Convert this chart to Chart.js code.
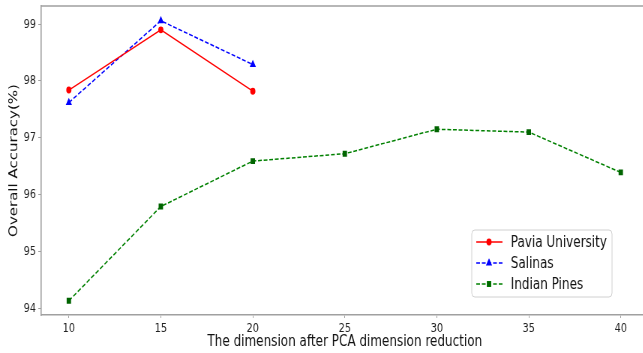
<!DOCTYPE html>
<html>
<head>
<meta charset="utf-8">
<script src="https://cdn.jsdelivr.net/npm/chart.js@4/dist/chart.umd.min.js"></script>
<style>
    html, body { margin: 0; padding: 0; background: #fff; overflow: hidden; }
    /* figure is drawn wide and shown squeezed horizontally */
    #wrap { width: 870px; height: 353px; transform: scaleX(0.75); transform-origin: 0 0; }
</style>
</head>
<body>
<div id="wrap"><canvas id="myChartPCA" width="870" height="353"></canvas></div>
<script>
var dimsShort = [10, 15, 20];
var dimsLong = [10, 15, 20, 25, 30, 35, 40];
var paviaOA = [97.84, 98.90, 97.82];
var salinasOA = [97.62, 99.06, 98.29];
var indianOA = [94.13, 95.79, 96.59, 96.72, 97.15, 97.10, 96.39];
var xTicks = [10, 15, 20, 25, 30, 35, 40];
var yTicks = [94, 95, 96, 97, 98, 99];

function toPoints(xs, ys) {
    var pts = [];
    for (var i in xs) {
        pts.push({ x: xs[i], y: ys[i] });
    }
    return pts;
}

var spineColor = '#a0a0a0';
var tickFont = { family: 'DejaVu Sans', size: 13 };

// top/right spines and the boxed legend
var framePlugin = {
    id: 'frame',
    afterDraw: function (chart) {
        var ctx = chart.ctx;
        var a = chart.chartArea;
        ctx.save();
        ctx.strokeStyle = spineColor;
        ctx.lineWidth = 1.6;
        ctx.beginPath();
        ctx.moveTo(a.left, a.top);
        ctx.lineTo(a.right, a.top);
        ctx.lineTo(a.right, a.bottom);
        ctx.stroke();

        // legend
        var bx = 629, by = 230, bw = 187, bh = 67;
        ctx.fillStyle = 'rgba(255,255,255,0.9)';
        ctx.strokeStyle = '#d0d0d0';
        ctx.lineWidth = 1;
        ctx.beginPath();
        if (ctx.roundRect) ctx.roundRect(bx, by, bw, bh, 4); else ctx.rect(bx, by, bw, bh);
        ctx.fill();
        ctx.stroke();

        var rowY = [242, 263, 284];
        chart.data.datasets.forEach(function (ds, i) {
            var y = rowY[i];
            ctx.strokeStyle = ds.borderColor;
            ctx.lineWidth = ds.borderWidth;
            ctx.setLineDash(ds.borderDash || []);
            ctx.beginPath();
            ctx.moveTo(635, y);
            ctx.lineTo(670, y);
            ctx.stroke();
            ctx.setLineDash([]);
            Chart.helpers.drawPoint(ctx, {
                pointStyle: ds.pointStyle,
                radius: ds.pointRadius,
                rotation: 0,
                borderWidth: 1
            }, 652, y);
            ctx.fillStyle = ds.pointBackgroundColor;
            ctx.fill();
            ctx.fillStyle = '#111';
            ctx.font = '16px "DejaVu Sans"';
            ctx.textBaseline = 'middle';
            ctx.textAlign = 'left';
            ctx.fillText(ds.label, 681, y + 1);
        });
        ctx.restore();
    }
};

var chartdata = {
    datasets: [
        {
            label: 'Pavia University',
            data: toPoints(dimsShort, paviaOA),
            borderColor: '#ff0000',
            backgroundColor: '#ff0000',
            pointBackgroundColor: '#ff0000',
            pointBorderColor: '#ff0000',
            pointStyle: 'circle',
            pointRadius: 2.7,
            borderWidth: 1.5,
            borderDash: []
        },
        {
            label: 'Salinas',
            data: toPoints(dimsShort, salinasOA),
            borderColor: '#0000ff',
            backgroundColor: '#0000ff',
            pointBackgroundColor: '#0000ff',
            pointBorderColor: '#0000ff',
            pointStyle: 'triangle',
            pointRadius: 3.3,
            borderWidth: 1.5,
            borderDash: [5, 2.5]
        },
        {
            label: 'Indian Pines',
            data: toPoints(dimsLong, indianOA),
            borderColor: '#008000',
            backgroundColor: '#008000',
            pointBackgroundColor: '#006400',
            pointBorderColor: '#006400',
            pointStyle: 'rect',
            pointRadius: 3.1,
            borderWidth: 1.5,
            borderDash: [5, 2.5]
        }
    ]
};

var ctx = document.getElementById('myChartPCA');
var pcaChart = new Chart(ctx, {
    type: 'scatter',
    data: chartdata,
    plugins: [framePlugin],
    options: {
        responsive: false,
        animation: false,
        devicePixelRatio: 1,
        showLine: true,
        layout: { padding: { top: 6, right: 5, left: 0, bottom: 0 } },
        plugins: { legend: { display: false }, tooltip: { enabled: false } },
        elements: { line: { tension: 0, fill: false } },
        scales: {
            x: {
                type: 'linear',
                min: 8.5,
                max: 41.5,
                afterFit: function (scale) {
                    scale.height = 38;
                    scale.paddingLeft = 0;
                    scale.paddingRight = 0;
                },
                afterBuildTicks: function (scale) {
                    scale.ticks = xTicks.map(function (v) { return { value: v }; });
                },
                grid: { drawOnChartArea: false, tickLength: 3, color: spineColor },
                border: { color: spineColor, width: 1.6 },
                ticks: { font: tickFont, color: '#222', padding: 3, maxRotation: 0 },
                title: {
                    display: true,
                    text: 'The dimension after PCA dimension reduction',
                    font: { family: 'DejaVu Sans', size: 16 },
                    color: '#111',
                    padding: { top: 0, bottom: 2 }
                }
            },
            y: {
                type: 'linear',
                min: 93.88,
                max: 99.32,
                afterFit: function (scale) {
                    scale.width = 55;
                    scale.paddingTop = 0;
                    scale.paddingBottom = 0;
                },
                afterBuildTicks: function (scale) {
                    scale.ticks = yTicks.map(function (v) { return { value: v }; });
                },
                grid: { drawOnChartArea: false, tickLength: 4, color: spineColor },
                border: { color: spineColor, width: 1.6 },
                ticks: { font: tickFont, color: '#222', padding: 3 },
                title: {
                    display: true,
                    text: 'Overall Accuracy(%)',
                    font: { family: 'DejaVu Sans', size: 15 },
                    color: '#111',
                    padding: { top: 10, bottom: 0 }
                }
            }
        }
    }
});
</script>
</body>
</html>
